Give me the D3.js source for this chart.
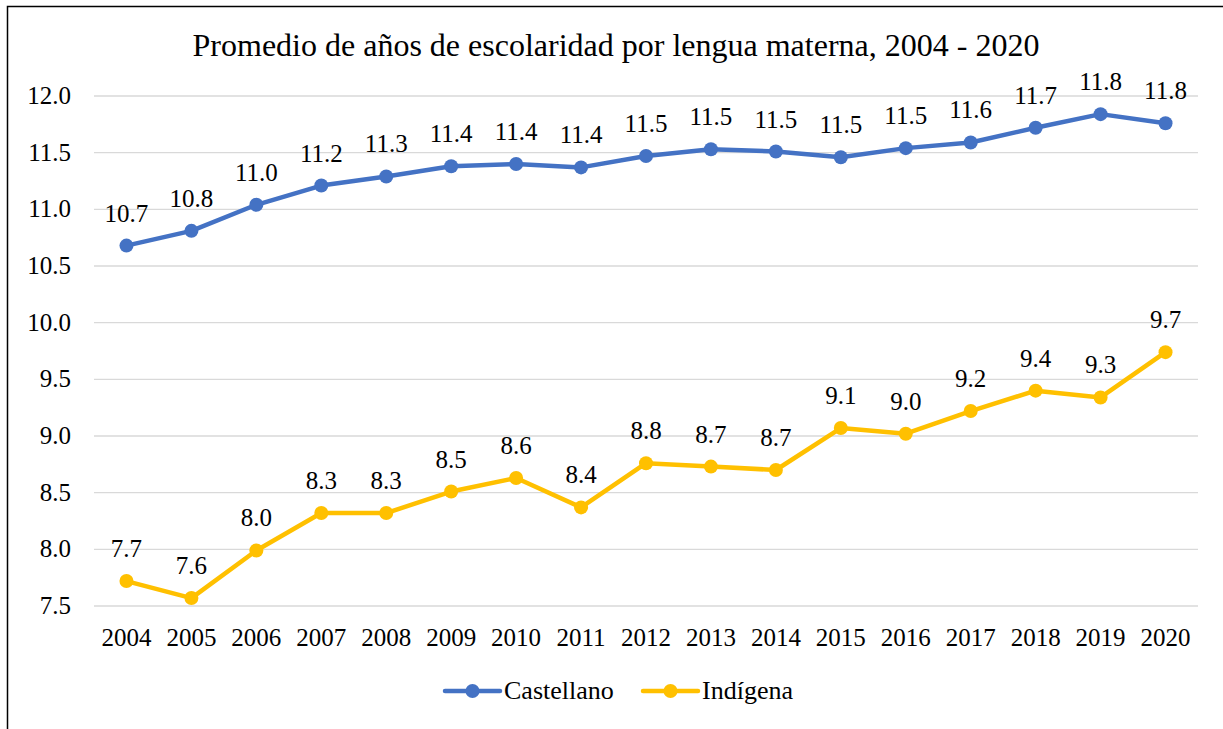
<!DOCTYPE html>
<html>
<head>
<meta charset="utf-8">
<script src="https://cdn.jsdelivr.net/npm/d3@7"></script>
<style>
  body { margin: 0; background: #fff; }
</style>
</head>
<body>
<div id="chart-area"></div>
<script>
// data
var years = ["2004","2005","2006","2007","2008","2009","2010","2011","2012","2013","2014","2015","2016","2017","2018","2019","2020"];
var castellano = [10.68, 10.81, 11.04, 11.21, 11.29, 11.38, 11.40, 11.37, 11.47, 11.53, 11.51, 11.46, 11.54, 11.59, 11.72, 11.84, 11.76];
var indigena = [7.72, 7.57, 7.99, 8.32, 8.32, 8.51, 8.63, 8.37, 8.76, 8.73, 8.70, 9.07, 9.02, 9.22, 9.40, 9.34, 9.74];
var yTicks = [7.5, 8.0, 8.5, 9.0, 9.5, 10.0, 10.5, 11.0, 11.5, 12.0];
var seriesNames = ["Castellano", "Indígena"];
var seriesColors = ["#4472C4", "#FFC000"];

var width = 1223, height = 729;
var font = "'Liberation Serif', 'DejaVu Serif'";

var svg = d3.select("#chart-area").append("svg")
    .attr("width", width)
    .attr("height", height)
    .attr("font-family", font);

// outer chart border (cropped on right / bottom)
svg.append("rect")
    .attr("x", 7.5).attr("y", 6.5)
    .attr("width", 1400).attr("height", 900)
    .attr("fill", "none")
    .attr("stroke", "#000")
    .attr("stroke-width", 1.5);

svg.append("text")
    .attr("x", 616).attr("y", 56)
    .attr("text-anchor", "middle")
    .attr("font-size", 32)
    .text("Promedio de años de escolaridad por lengua materna, 2004 - 2020");

var x = d3.scaleBand()
    .domain(years)
    .range([94, 1198]);

var y = d3.scaleLinear()
    .domain([7.5, 12.0])
    .range([606, 96]);

// gridlines
svg.selectAll(".grid").data(yTicks).enter()
    .append("line")
        .attr("class", "grid")
        .attr("x1", 94).attr("x2", 1198)
        .attr("y1", (d) => y(d)).attr("y2", (d) => y(d))
        .attr("stroke", "#d9d9d9")
        .attr("stroke-width", 1.3);

// y labels
svg.selectAll(".ylab").data(yTicks).enter()
    .append("text")
        .attr("class", "ylab")
        .attr("x", 71)
        .attr("y", (d) => y(d) + 8)
        .attr("text-anchor", "end")
        .attr("font-size", 25)
        .text((d) => d3.format(".1f")(d));

// x labels
svg.selectAll(".xlab").data(years).enter()
    .append("text")
        .attr("class", "xlab")
        .attr("x", (d) => x(d) + x.bandwidth() / 2)
        .attr("y", 646)
        .attr("text-anchor", "middle")
        .attr("font-size", 25)
        .text((d) => d);

var line = d3.line()
    .x((d, i) => x(years[i]) + x.bandwidth() / 2)
    .y((d) => y(d));

[castellano, indigena].forEach((vals, k) => {
    var g = svg.append("g");
    g.append("path")
        .datum(vals)
        .attr("d", line)
        .attr("fill", "none")
        .attr("stroke", seriesColors[k])
        .attr("stroke-width", 4.5)
        .attr("stroke-linejoin", "round");
    g.selectAll("circle").data(vals).enter()
        .append("circle")
            .attr("cx", (d, i) => x(years[i]) + x.bandwidth() / 2)
            .attr("cy", (d) => y(d))
            .attr("r", 7)
            .attr("fill", seriesColors[k]);
    g.selectAll(".dlab").data(vals).enter()
        .append("text")
            .attr("class", "dlab")
            .attr("x", (d, i) => x(years[i]) + x.bandwidth() / 2)
            .attr("y", (d) => y(d) - 24)
            .attr("text-anchor", "middle")
            .attr("font-size", 25)
            .text((d) => d3.format(".1f")(d));
});

// legend
var legendX = [445, 643];
seriesNames.forEach((name, k) => {
    var lg = svg.append("g").attr("transform", "translate(" + legendX[k] + ",691)");
    lg.append("line")
        .attr("x1", 0).attr("x2", 55)
        .attr("stroke", seriesColors[k])
        .attr("stroke-width", 4.5)
        .attr("stroke-linecap", "round");
    lg.append("circle")
        .attr("cx", 27.5).attr("r", 7)
        .attr("fill", seriesColors[k]);
    lg.append("text")
        .attr("x", 59).attr("y", 8)
        .attr("font-size", 26)
        .text(name);
});
</script>
</body>
</html>
